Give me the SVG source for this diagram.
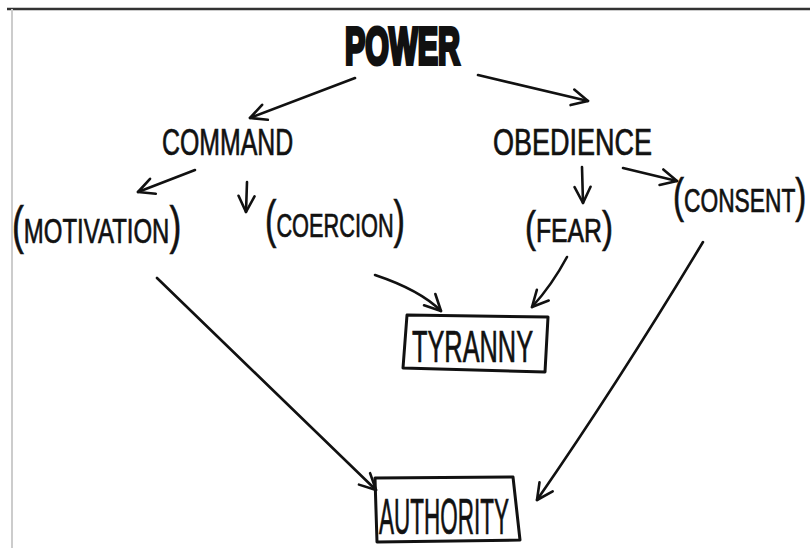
<svg xmlns="http://www.w3.org/2000/svg" width="810" height="548" viewBox="0 0 810 548">
<defs>
<style>
.lbl{font-family:"Liberation Sans",Arial,sans-serif;fill:#111;stroke:#111;stroke-width:0.7}
.con{fill:none;stroke:#111;stroke-width:2.6;stroke-linecap:round;stroke-linejoin:round}
.box{fill:none;stroke:#111;stroke-width:3;stroke-linejoin:round}
</style>
<marker id="ah" viewBox="0 0 20 20" refX="18" refY="10" markerWidth="20" markerHeight="20" markerUnits="userSpaceOnUse" orient="auto">
<path d="M2,2 L18,10 L2,18" fill="none" stroke="#111" stroke-width="2.6" stroke-linecap="round" stroke-linejoin="round"/>
</marker>
</defs>
<rect width="810" height="548" fill="#fff"/>
<g id="frame">
<line x1="7" y1="9" x2="810" y2="9" stroke="#333" stroke-width="2.5"/>
<line x1="12" y1="9" x2="12" y2="548" stroke="#ccc" stroke-width="2"/>
</g>
<g id="connectors">
<path class="con" d="M355,78 L250,118" marker-end="url(#ah)"/>
<path class="con" d="M478,75 L588,101" marker-end="url(#ah)"/>
<path class="con" d="M195,170 L138,192" marker-end="url(#ah)"/>
<path class="con" d="M247,182 L246,212" marker-end="url(#ah)"/>
<path class="con" d="M582,167 L583,203" marker-end="url(#ah)"/>
<path class="con" d="M623,168 L677,181" marker-end="url(#ah)"/>
<path class="con" d="M375,275 Q420,290 441,311" marker-end="url(#ah)"/>
<path class="con" d="M567,257 Q552,285 532,307" marker-end="url(#ah)"/>
<path class="con" d="M157,278 L376,490" marker-end="url(#ah)"/>
<path class="con" d="M703,242 Q620,380 537,500" marker-end="url(#ah)"/>
</g>
<g id="power">
<text class="lbl" transform="translate(345,64) scale(0.585,1)" font-size="52" font-weight="bold" style="stroke-width:4">POWER</text>
</g>
<g id="command">
<text class="lbl" transform="translate(162,155) scale(0.672,1)" font-size="37">COMMAND</text>
</g>
<g id="obedience">
<text class="lbl" transform="translate(493,155) scale(0.75,1)" font-size="36">OBEDIENCE</text>
</g>
<g id="motivation">
<text class="lbl" transform="translate(12,243) scale(0.685,1)" font-size="35"><tspan font-size="52">(</tspan>MOTIVATION<tspan font-size="52">)</tspan></text>
</g>
<g id="coercion">
<text class="lbl" transform="translate(265,237) scale(0.659,1)" font-size="33"><tspan font-size="52">(</tspan>COERCION<tspan font-size="52">)</tspan></text>
</g>
<g id="fear">
<text class="lbl" transform="translate(525,242) scale(0.75,1)" font-size="33"><tspan font-size="44">(</tspan>FEAR<tspan font-size="44">)</tspan></text>
</g>
<g id="consent">
<text class="lbl" transform="translate(673,212) scale(0.69,1)" font-size="33"><tspan font-size="48">(</tspan>CONSENT<tspan font-size="48">)</tspan></text>
</g>
<g id="tyranny">
<path class="box" d="M407,315 L548,317 L545,372 L403,368 Z"/>
<text class="lbl" transform="translate(412,362) scale(0.576,1)" font-size="44">TYRANNY</text>
</g>
<g id="authority">
<path class="box" d="M375,478 L513,477 L520,540 L377,542 Z"/>
<text class="lbl" transform="translate(379,534) scale(0.45,1)" font-size="50">AUTHORITY</text>
</g>
</svg>
